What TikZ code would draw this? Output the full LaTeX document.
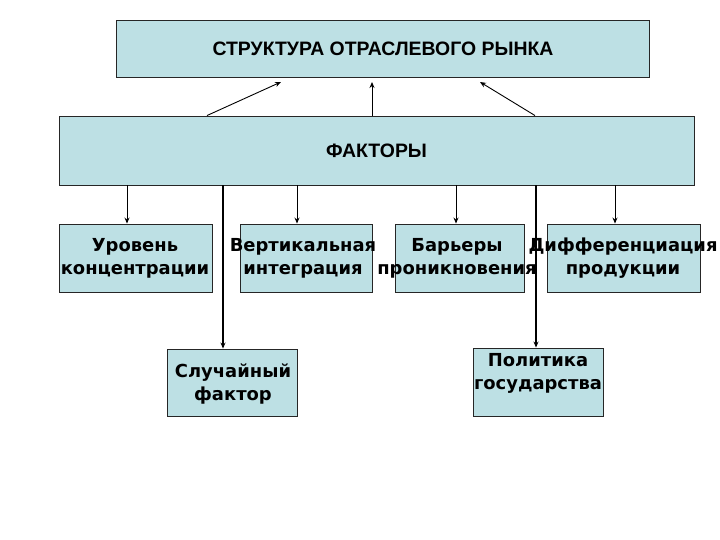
\documentclass[tikz,border=0pt]{standalone}
\usepackage{fontspec}
\setmainfont{DejaVu Sans}
\newfontfamily\titlefont{Liberation Sans}
\usetikzlibrary{arrows.meta}
\definecolor{boxblue}{HTML}{BDE0E4}
\begin{document}
\begin{tikzpicture}[x=1bp,y=-1bp,
  box/.style={draw=black!85, fill=boxblue, line width=0.9bp, inner sep=0pt, minimum width=#1},
  txt/.style={font=\fontsize{18}{23}\selectfont\bfseries, align=center, inner sep=0pt},
  ttl/.style={font=\titlefont\fontsize{19.5}{23}\selectfont\bfseries, inner sep=0pt},
  arr/.style={-{Stealth[length=6bp,width=5bp]}, line width=0.9bp},
  thk/.style={-{Stealth[length=6bp,width=5bp]}, line width=2bp}]
\useasboundingbox (0,0) rectangle (720,540);
% boxes
\node[box=533bp, minimum height=57bp] (top) at (382.5,48.5) {};
\node[ttl] at (383,49) {СТРУКТУРА ОТРАСЛЕВОГО РЫНКА};
\node[box=635bp, minimum height=69bp] (fak) at (376.5,150.5) {};
\node[ttl] at (376.5,151) {ФАКТОРЫ};
\node[box=153bp, minimum height=68bp] (ur) at (135.5,258) {};
\node[txt] at (135,258) {Уровень\\концентрации};
\node[box=132bp, minimum height=68bp] (vert) at (306,258) {};
\node[txt] at (303,258) {Вертикальная\\интеграция};
\node[box=129bp, minimum height=68bp] (bar) at (459.5,258) {};
\node[txt] at (457,258) {Барьеры\\проникновения};
\node[box=153bp, minimum height=68bp] (dif) at (623.5,258) {};
\node[txt] at (623,258) {Дифференциация\\продукции};
\node[box=130bp, minimum height=67bp] (sl) at (232,382.5) {};
\node[txt] at (233,384) {Случайный\\фактор};
\node[box=130bp, minimum height=68bp] (pol) at (538,382) {};
\node[txt] at (538,373) {Политика\\государства};
% arrow x positions
\coordinate (xa) at (207,0);
\coordinate (xb) at (372,0);
\coordinate (xc) at (535,0);
\coordinate (ea) at (281,82);
\coordinate (eb) at (372,82);
\coordinate (ec) at (480,82);
\coordinate (x1) at (127,0);
\coordinate (x2) at (297,0);
\coordinate (x3) at (456,0);
\coordinate (x4) at (615,0);
\coordinate (s1) at (223,0);
\coordinate (s2) at (536,0);
% upward arrows
\draw[arr] (fak.north -| xa) -- (ea);
\draw[arr] (fak.north -| xb) -- (eb);
\draw[arr] (fak.north -| xc) -- (ec);
% downward arrows
\draw[arr] (fak.south -| x1) -- (ur.north -| x1);
\draw[arr] (fak.south -| x2) -- (vert.north -| x2);
\draw[arr] (fak.south -| x3) -- (bar.north -| x3);
\draw[arr] (fak.south -| x4) -- (dif.north -| x4);
\draw[thk] (fak.south -| s1) -- (sl.north -| s1);
\draw[thk] (fak.south -| s2) -- (pol.north -| s2);
\end{tikzpicture}
\end{document}
